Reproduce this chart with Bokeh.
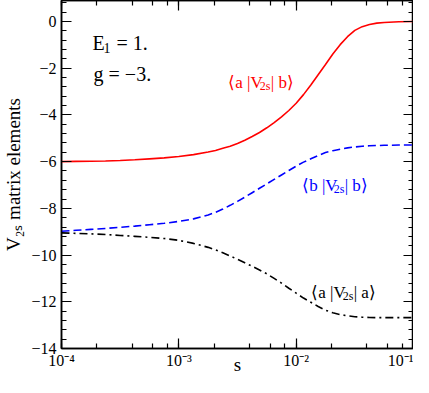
import math
from bokeh.plotting import figure
from bokeh.models import (LogAxis, LinearAxis, Label, CustomJSTickFormatter,
                          SingleIntervalTicker, LogTicker)
from bokeh.embed import file_html
from bokeh.resources import INLINE

# ---- data ----
log_s = [-4.0, -3.875, -3.75, -3.625, -3.5, -3.375, -3.25, -3.125, -3.0,
         -2.875, -2.75, -2.6875, -2.625, -2.5625, -2.5, -2.4375, -2.375,
         -2.3125, -2.25, -2.1875, -2.125, -2.0625, -2.0, -1.9375, -1.875,
         -1.8125, -1.75, -1.6875, -1.625, -1.5625, -1.5, -1.4375, -1.375,
         -1.3125, -1.25, -1.125, -1.0]
s_vals = [10 ** e for e in log_s]

v_ab = [-6.00, -5.99, -5.98, -5.97, -5.95, -5.92, -5.88, -5.84, -5.78,
        -5.70, -5.59, -5.52, -5.43, -5.34, -5.22, -5.08, -4.92,
        -4.75, -4.55, -4.33, -4.08, -3.81, -3.50, -3.13, -2.72,
        -2.28, -1.84, -1.39, -0.99, -0.65, -0.38, -0.22, -0.13,
        -0.07, -0.04, -0.01, 0.00]
v_bb = [-8.98, -8.94, -8.90, -8.86, -8.81, -8.76, -8.70, -8.64, -8.56,
        -8.45, -8.28, -8.17, -8.03, -7.87, -7.70, -7.52, -7.33,
        -7.14, -6.95, -6.76, -6.57, -6.38, -6.19, -6.02, -5.88,
        -5.74, -5.61, -5.53, -5.47, -5.41, -5.37, -5.34, -5.32,
        -5.31, -5.30, -5.29, -5.29]
v_aa = [-9.05, -9.07, -9.09, -9.12, -9.16, -9.20, -9.24, -9.29, -9.37,
        -9.50, -9.67, -9.78, -9.90, -10.04, -10.18, -10.33, -10.48,
        -10.64, -10.80, -11.00, -11.20, -11.42, -11.63, -11.84, -12.02,
        -12.20, -12.36, -12.47, -12.55, -12.60, -12.64, -12.66, -12.67,
        -12.68, -12.68, -12.68, -12.68]

FONT = "Liberation Serif"
RED = "#ff0000"
BLUE = "#0000ff"

p = figure(width=413, height=377, x_axis_type="log",
           x_range=(1e-4, 1e-1), y_range=(-14, 0.9),
           output_backend="svg", toolbar_location=None,
           min_border=0)
p.grid.visible = False
p.outline_line_color = "black"
p.outline_line_width = 1.5
p.background_fill_color = "white"
p.border_fill_color = "white"

yfmt = CustomJSTickFormatter(code="return tick < 0 ? '\\u2212' + (-tick) : String(tick);")
xfmt = CustomJSTickFormatter(code="""
const e = Math.round(Math.log10(tick));
const m = {'-': '\\u207b', '0': '\\u2070', '1': '\\u00b9', '2': '\\u00b2', '3': '\\u00b3', '4': '\\u2074'};
return '10' + String(e).split('').map(c => m[c]).join('');
""")
blank = CustomJSTickFormatter(code="return '';")


def style(ax):
    ax.axis_line_color = "black"
    ax.axis_line_width = 1.5
    ax.major_tick_in = 10
    ax.major_tick_out = 0
    ax.minor_tick_in = 5
    ax.minor_tick_out = 0
    ax.major_tick_line_width = 1.2
    ax.minor_tick_line_width = 1.2
    ax.major_label_text_font = FONT
    ax.major_label_text_color = "black"
    ax.axis_label_text_font = FONT
    ax.axis_label_text_font_style = "normal"
    ax.axis_label_text_color = "black"


# bottom
xa = p.xaxis[0]
style(xa)
xa.ticker = LogTicker(desired_num_ticks=4)
xa.formatter = xfmt
xa.major_label_text_font_size = "16px"
xa.major_label_standoff = 3
xa.axis_label = "s"
xa.axis_label_text_font_size = "19px"
xa.axis_label_standoff = -18

# left
ya = p.yaxis[0]
style(ya)
ya.ticker = SingleIntervalTicker(interval=2, num_minor_ticks=5)
ya.formatter = yfmt
ya.major_label_text_font_size = "16px"
ya.major_label_standoff = 5
ya.axis_label = "V\u2082\u209b matrix elements"
ya.axis_label_text_font_size = "19px"
ya.axis_label_standoff = 4

# mirrored axes
top = LogAxis(ticker=LogTicker(desired_num_ticks=4), formatter=blank)
style(top)
top.major_label_standoff = 0
top.major_label_text_font_size = "1px"
p.add_layout(top, "above")
right = LinearAxis(ticker=SingleIntervalTicker(interval=2, num_minor_ticks=5), formatter=blank)
style(right)
right.major_label_standoff = 0
right.major_label_text_font_size = "1px"
p.add_layout(right, "right")

# curves
p.line(s_vals, v_ab, line_color=RED, line_width=1.6)
p.line(s_vals, v_bb, line_color=BLUE, line_width=1.6, line_dash="8 4")
p.line(s_vals, v_aa, line_color="black", line_width=1.6, line_dash="8 4 2 4")


def lab(x, y, text, size, color="black", xo=0, yo=0):
    p.add_layout(Label(x=x, y=y, text=text, text_font=FONT, text_font_size=size,
                       text_color=color, text_baseline="alphabetic", text_align="left",
                       x_offset=xo, y_offset=yo))


# parameters text
ex = 10 ** -3.735
lab(ex, -0.91, "E", "20px")
lab(ex, -0.91, "1", "14px", xo=11, yo=-5)
lab(ex, -0.91, "= 1.", "20px", xo=24)
lab(ex, -2.23, "g = \u22123.", "20px", xo=1)


def bracket(x, y, left, right, color):
    lab(x, y, "\u27e8" + left + " |V", "17px", color)
    lab(x, y, "2s", "12px", color, xo=31.5, yo=-3.5)
    lab(x, y, "| " + right + "\u27e9", "17px", color, xo=42.5)


bracket(10 ** -2.579, -2.63, "a", "b", RED)
bracket(10 ** -1.949, -7.02, "b", "b", BLUE)
bracket(10 ** -1.872, -11.61, "a", "a", "black")

open("out.html", "w").write(file_html(p, INLINE))
